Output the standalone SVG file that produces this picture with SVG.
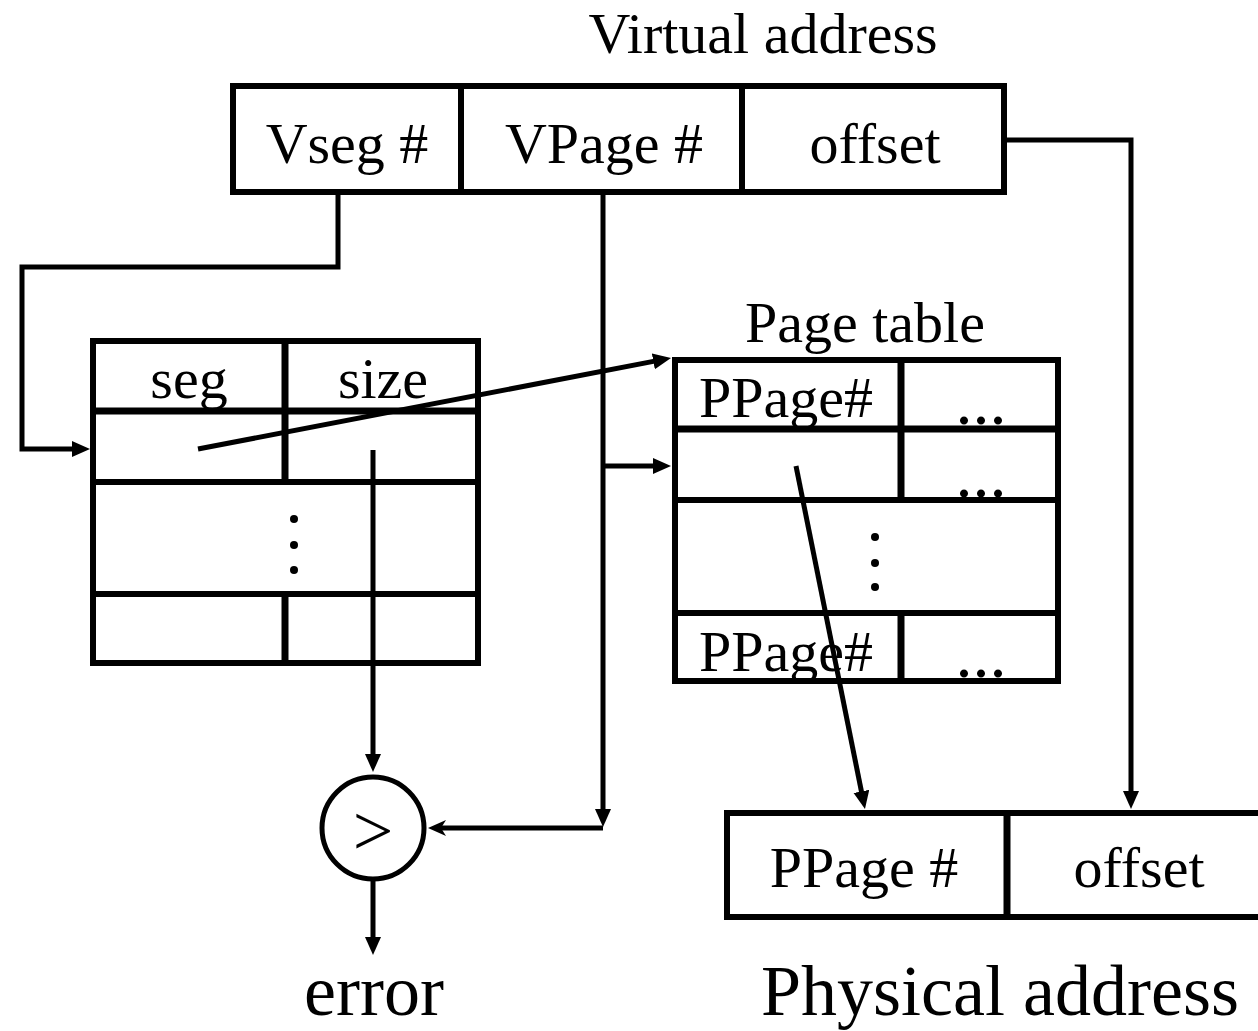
<svg xmlns="http://www.w3.org/2000/svg" width="1258" height="1031" viewBox="0 0 1258 1031">
<style>
text{font-family:"Liberation Serif","Times New Roman",serif;fill:#000;text-anchor:middle}
.t58{font-size:58px}
.t72{font-size:72px}
.ell{font-size:68px}
.box{fill:none;stroke:#000;stroke-width:6}
.div{stroke:#000;stroke-width:7;fill:none}
.row{stroke:#000;stroke-width:6;fill:none}
.conn{fill:none;stroke:#000;stroke-width:5}
.dot{fill:#000}
</style>
<defs>
<marker id="ah" markerUnits="userSpaceOnUse" markerWidth="20" markerHeight="18" refX="8" refY="8" orient="auto" viewBox="0 0 20 18">
<path d="M0,0 L18,8 L0,16 z" fill="#000"/>
</marker>
<marker id="ahn" markerUnits="userSpaceOnUse" markerWidth="20" markerHeight="18" refX="8" refY="8" orient="auto" viewBox="0 0 20 18">
<path d="M0,0 L18,8 L0,16 L5,8 z" fill="#000"/>
</marker>
</defs>
<rect width="1258" height="1031" fill="#fff"/>

<g id="virtual-address">
<text class="t58" x="763" y="53">Virtual address</text>
<rect class="box" x="233" y="86" width="771" height="106"/>
<line class="row" x1="461" y1="86" x2="461" y2="192"/>
<line class="row" x1="742" y1="86" x2="742" y2="192"/>
<text class="t58" x="347" y="163">Vseg #</text>
<text class="t58" x="604" y="163">VPage #</text>
<text class="t58" x="875" y="163">offset</text>
</g>

<g id="segment-table">
<rect class="box" x="93" y="341" width="385" height="322"/>
<line class="div" x1="93" y1="411" x2="478" y2="411"/>
<line class="row" x1="93" y1="482" x2="478" y2="482"/>
<line class="row" x1="93" y1="594" x2="478" y2="594"/>
<line class="div" x1="285" y1="341" x2="285" y2="482"/>
<line class="div" x1="285" y1="594" x2="285" y2="663"/>
<text class="t58" x="189" y="398">seg</text>
<text class="t58" x="383" y="398">size</text>
<circle class="dot" cx="294" cy="519" r="4"/>
<circle class="dot" cx="294" cy="545" r="4"/>
<circle class="dot" cx="294" cy="570" r="4"/>
</g>

<g id="page-table">
<text class="t58" x="865" y="342">Page table</text>
<rect class="box" x="675" y="360" width="383" height="321"/>
<line class="div" x1="675" y1="429" x2="1058" y2="429"/>
<line class="row" x1="675" y1="500" x2="1058" y2="500"/>
<line class="row" x1="675" y1="613" x2="1058" y2="613"/>
<line class="div" x1="901" y1="360" x2="901" y2="500"/>
<line class="div" x1="901" y1="613" x2="901" y2="681"/>
<text class="t58" x="786" y="417">PPage#</text>
<text class="t58" x="786" y="671">PPage#</text>
<text class="ell" x="981" y="424">...</text>
<text class="ell" x="981" y="497">...</text>
<text class="ell" x="981" y="677">...</text>
<circle class="dot" cx="875" cy="537" r="4"/>
<circle class="dot" cx="875" cy="563" r="4"/>
<circle class="dot" cx="875" cy="587" r="4"/>
</g>

<g id="comparator">
<circle cx="373" cy="828" r="51" fill="#fff" stroke="#000" stroke-width="5"/>
<text class="t72" x="373" y="855">&gt;</text>
</g>

<g id="error-label">
<text class="t72" x="374" y="1015">error</text>
</g>

<g id="physical-address">
<rect class="box" x="727" y="813" width="540" height="104"/>
<line class="div" x1="1007" y1="813" x2="1007" y2="917"/>
<text class="t58" x="864" y="887">PPage #</text>
<text class="t58" x="1139" y="887">offset</text>
<text class="t72" x="1000" y="1015">Physical address</text>
</g>

<g id="connectors">
<path class="conn" d="M338,192 V267 H22 V449 H80" marker-end="url(#ah)"/>
<path class="conn" d="M198,449 L661.2,359.9" marker-end="url(#ah)"/>
<path class="conn" d="M373,450 V762" marker-end="url(#ah)"/>
<path class="conn" d="M603,192 V817" marker-end="url(#ah)"/>
<path class="conn" d="M603,466 H661" marker-end="url(#ah)"/>
<path class="conn" d="M603,828 H438" marker-end="url(#ahn)"/>
<path class="conn" d="M373,880 V945" marker-end="url(#ah)"/>
<path class="conn" d="M796,466 L863,799.2" marker-end="url(#ah)"/>
<path class="conn" d="M1006,140 H1131 V799" marker-end="url(#ah)"/>
</g>
</svg>
